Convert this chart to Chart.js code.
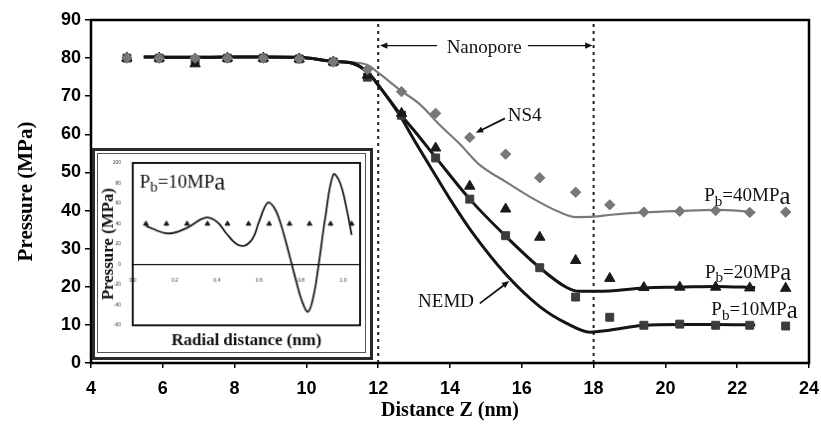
<!DOCTYPE html>
<html>
<head>
<meta charset="utf-8">
<script src="https://cdn.jsdelivr.net/npm/chart.js@4.4.1/dist/chart.umd.min.js"></script>
<style>
body { margin: 0; background: #fff; }
#wrap { position: relative; width: 821px; height: 431px; }
#mainChart { display: block; }
#inset { position: absolute; left: 92px; top: 148px; width: 281px; height: 212px; box-sizing: border-box;
         border: 3px solid #2a2a2a; padding: 2px; background: #fff; }
#insetChart { display: block; border: 1px solid #555; }
</style>
</head>
<body>
<div id="wrap">
  <canvas id="mainChart" width="821" height="431"></canvas>
  <div id="inset"><canvas id="insetChart" width="269" height="200"></canvas></div>
</div>
<script>
// --- main plot: NS4 points (one z grid for all three bulk pressures) ---
const zPoints = [5.0, 5.9, 6.9, 7.8, 8.8, 9.8, 10.75, 11.7, 12.65, 13.6, 14.55, 15.55, 16.5, 17.5, 18.45, 19.4, 20.4, 21.4, 22.35, 23.35];
const ns4P40 = [80, 80, 80, 80, 80, 79.8, 79, 77, 71.2, 65.5, 59.2, 54.8, 48.6, 44.8, 41.5, 39.6, 39.8, 40, 39.5, 39.6];
const ns4P20 = [80, 80, 78.5, 80, 80, 79.8, 79, 75.5, 65.5, 56.4, 46.4, 40.4, 33, 26.9, 22.2, 19.8, 19.9, 19.9, 19.7, 19.6];
const ns4P10 = [80, 80, 79.5, 80, 80, 79.8, 79, 75, 65, 53.8, 43, 33.4, 25, 17.3, 12, 9.9, 10.2, 9.9, 9.9, 9.7];

// --- main plot: NEMD curves ---
const nemdZ40 = [5.47, 6.4, 6.9, 7.8, 8.8, 9.8, 10.75, 11.3, 11.7, 12.06, 12.6, 13.17, 13.7, 14.28, 14.8, 15.58, 16.3, 17.05, 17.5, 18.0, 18.5, 19.4, 20.4, 21.4, 22.0, 22.5];
const nemdP40 = [80.3, 80.2, 80.2, 80.3, 80.3, 80.2, 79.1, 78.9, 78.2, 75.7, 71.7, 67.8, 62.6, 57.4, 52.2, 47.4, 43.2, 39.6, 38.3, 38.4, 38.9, 39.5, 39.9, 40.2, 40.0, 39.5];
const nemdZ20 = [5.47, 6.4, 6.9, 7.8, 8.8, 9.8, 10.75, 11.3, 11.7, 12.06, 12.6, 13.0, 13.64, 14.55, 15.55, 16.5, 17.25, 17.6, 18.0, 18.44, 19.4, 20.4, 21.4, 22.5];
const nemdP20 = [80.3, 80.2, 80.2, 80.3, 80.3, 80.2, 79.1, 78.6, 76.3, 72.2, 65.5, 61.0, 53.5, 43.0, 33.3, 25.0, 19.8, 18.8, 18.8, 18.9, 19.7, 19.9, 20.1, 19.8];
const nemdZ10 = [5.47, 6.4, 6.9, 7.8, 8.8, 9.8, 10.75, 11.3, 11.7, 12.06, 12.6, 13.0, 13.45, 14.0, 14.64, 15.58, 16.5, 17.25, 17.9, 18.44, 19.4, 20.4, 21.4, 22.5];
const nemdP10 = [80.3, 80.2, 80.2, 80.3, 80.3, 80.2, 79.1, 78.6, 76.3, 72.2, 65.0, 58.5, 51.5, 43.0, 34.0, 23.0, 14.8, 10.4, 8.1, 8.6, 9.9, 10.1, 10.1, 10.0];

const poreWalls = [12, 18];

// --- inset: radial profile at Pb = 10 MPa ---
const radialPts = [0.0625, 0.16, 0.258, 0.355, 0.45, 0.55, 0.648, 0.745, 0.84, 0.94, 1.04];
const radialNs4 = [40, 40, 40, 40, 40, 40, 40, 40, 40, 40, 40];
const radialZ = [0.0625, 0.167, 0.258, 0.344, 0.4, 0.445, 0.49, 0.53, 0.57, 0.6, 0.64, 0.67, 0.70, 0.74, 0.773, 0.805, 0.833, 0.86, 0.883, 0.914, 0.953, 0.984, 1.016, 1.04];
const radialNemd = [38, 30.5, 36, 46, 42, 30.5, 20.6, 18.4, 25.6, 42, 60.6, 56.7, 42, 12.5, -13.8, -36.7, -46.6, -30, -0.7, 45, 88.5, 81, 55, 29];

const pts = (xs, ys) => xs.map((v, i) => ({ x: v, y: ys[i] }));

const tickFont = { family: '"Liberation Sans", Arial', size: 18, weight: 'bold' };
const serif = '"Liberation Serif", "Times New Roman", serif';

function drawPb(ctx, x, y, num, size) {
    ctx.save();
    ctx.fillStyle = '#111';
    ctx.textAlign = 'left';
    ctx.textBaseline = 'alphabetic';
    const f = s => `${s}px ${serif}`;
    ctx.font = f(size); ctx.fillText('P', x, y); x += ctx.measureText('P').width;
    ctx.font = f(size * 0.8); ctx.fillText('b', x, y + size * 0.25); x += ctx.measureText('b').width;
    ctx.font = f(size); const t = '=' + num + 'MP'; ctx.fillText(t, x, y); x += ctx.measureText(t).width;
    ctx.font = f(size * 1.3); ctx.fillText('a', x, y + size * 0.15);
    ctx.restore();
}

function drawArrow(ctx, x1, y1, x2, y2, head) {
    const a = Math.atan2(y2 - y1, x2 - x1);
    ctx.beginPath(); ctx.moveTo(x1, y1); ctx.lineTo(x2 - Math.cos(a) * head * 0.8, y2 - Math.sin(a) * head * 0.8); ctx.stroke();
    ctx.beginPath();
    ctx.moveTo(x2, y2);
    ctx.lineTo(x2 - head * Math.cos(a - 0.4), y2 - head * Math.sin(a - 0.4));
    ctx.lineTo(x2 - head * Math.cos(a + 0.4), y2 - head * Math.sin(a + 0.4));
    ctx.closePath(); ctx.fill();
}

const framePlugin = {
    id: 'frame',
    afterDatasetsDraw(chart, args, opts) {
        const { ctx, chartArea: c } = chart;
        ctx.save();
        ctx.strokeStyle = '#000';
        ctx.lineWidth = opts.width || 2.5;
        ctx.strokeRect(c.left, c.top, c.right - c.left, c.bottom - c.top);
        ctx.restore();
    }
};

const mainNotes = {
    id: 'mainNotes',
    afterDatasetsDraw(chart) {
        const { ctx, scales: { x, y } } = chart;
        const X = v => x.getPixelForValue(v), Y = v => y.getPixelForValue(v);
        ctx.save();
        ctx.fillStyle = '#111';
        ctx.strokeStyle = '#111';
        ctx.lineWidth = 1.3;
        ctx.font = `19px ${serif}`;
        ctx.textBaseline = 'middle';
        ctx.textAlign = 'center';
        ctx.fillText('Nanopore', X(14.95), Y(82.7));
        drawArrow(ctx, X(13.64), Y(83.3), X(12.05), Y(83.3), 8);
        drawArrow(ctx, X(16.17), Y(83.3), X(17.97), Y(83.3), 8);
        ctx.textAlign = 'left';
        ctx.fillText('NS4', X(15.61), Y(64.7));
        ctx.lineWidth = 1.8;
        drawArrow(ctx, X(15.53), Y(64.2), X(14.72), Y(60.4), 8);
        ctx.textAlign = 'center';
        ctx.fillText('NEMD', X(13.89), Y(15.9));
        drawArrow(ctx, X(14.83), Y(15.65), X(15.65), Y(21.5), 8);
        ctx.restore();
        drawPb(ctx, X(21.08), Y(42.5), 40, 19);
        drawPb(ctx, X(21.1), Y(22.4), 20, 19);
        drawPb(ctx, X(21.28), Y(12.5), 10, 19);
    }
};

const wallSets = poreWalls.map(z => ({
    data: [{ x: z, y: 0 }, { x: z, y: 90 }],
    showLine: true, pointRadius: 0, borderColor: '#222', borderWidth: 2, borderDash: [3, 4], order: 4
}));

new Chart(document.getElementById('mainChart'), {
    type: 'scatter',
    data: {
        datasets: [
            { data: pts(zPoints, ns4P40), pointStyle: 'rectRot', pointRadius: 5.2, backgroundColor: '#787878', borderColor: '#787878', borderWidth: 1, order: 0 },
            { data: pts(zPoints, ns4P20), pointStyle: 'triangle', pointRadius: 6, backgroundColor: '#1a1a1a', borderColor: '#1a1a1a', borderWidth: 1, order: 0 },
            { data: pts(zPoints, ns4P10), pointStyle: 'rect', pointRadius: 5.6, backgroundColor: '#3c3c3c', borderColor: '#3c3c3c', borderWidth: 1, order: 0 },
            { data: pts(nemdZ20, nemdP20), showLine: true, pointRadius: 0, borderColor: '#141414', borderWidth: 3, cubicInterpolationMode: 'monotone', order: 1 },
            { data: pts(nemdZ10, nemdP10), showLine: true, pointRadius: 0, borderColor: '#141414', borderWidth: 3, cubicInterpolationMode: 'monotone', order: 1 },
            { data: pts(nemdZ40, nemdP40), showLine: true, pointRadius: 0, borderColor: '#7a7a7a', borderWidth: 2.2, cubicInterpolationMode: 'monotone', order: 2 },
            ...wallSets
        ]
    },
    options: {
        responsive: false,
        animation: false,
        events: [],
        layout: { padding: { top: 20, right: 12, left: 0, bottom: 0 } },
        plugins: { legend: { display: false }, tooltip: { enabled: false }, frame: { width: 2.5 } },
        scales: {
            x: {
                type: 'linear', min: 4, max: 24,
                ticks: { stepSize: 2, font: tickFont, color: '#000', padding: 10 },
                grid: { drawOnChartArea: false, tickLength: 5, color: '#000', lineWidth: 1.5 },
                border: { display: false },
                title: { display: true, text: 'Distance Z (nm)', color: '#000', font: { family: serif, size: 20, weight: 'bold' }, padding: { top: 0, bottom: 8 } },
                afterFit: s => { s.height = 68; s.paddingLeft = 0; s.paddingRight = 0; }
            },
            y: {
                min: 0, max: 90,
                ticks: { stepSize: 10, font: tickFont, color: '#000', padding: 4 },
                grid: { drawOnChartArea: false, tickLength: 6, color: '#000', lineWidth: 1.5 },
                border: { display: false },
                title: { display: true, text: 'Pressure (MPa)', color: '#000', font: { family: serif, size: 21, weight: 'bold' }, padding: { top: 14, bottom: 0 } },
                afterFit: s => { s.width = 91; }
            }
        }
    },
    plugins: [framePlugin, mainNotes]
});

const insetNotes = {
    id: 'insetNotes',
    afterDatasetsDraw(chart) {
        const { ctx, scales: { x, y } } = chart;
        drawPb(ctx, x.getPixelForValue(0.033), y.getPixelForValue(76), 10, 19);
    }
};

const smallFont = { family: '"Liberation Sans", Arial', size: 5 };

new Chart(document.getElementById('insetChart'), {
    type: 'scatter',
    data: {
        datasets: [
            { data: pts(radialPts, radialNs4), pointStyle: 'triangle', pointRadius: 2.8, backgroundColor: '#1a1a1a', borderColor: '#1a1a1a', borderWidth: 1 },
            { data: pts(radialZ, radialNemd), showLine: true, pointRadius: 0, borderColor: '#1a1a1a', borderWidth: 1.8, tension: 0.4 }
        ]
    },
    options: {
        responsive: false,
        animation: false,
        events: [],
        layout: { padding: { top: 9, right: 4, left: 0, bottom: 0 } },
        plugins: { legend: { display: false }, tooltip: { enabled: false }, frame: { width: 1.8 } },
        scales: {
            x: {
                type: 'linear', min: 0, max: 1.08,
                ticks: { display: false },
                grid: { display: false },
                border: { display: false },
                title: { display: true, text: 'Radial distance (nm)', color: '#111', font: { family: serif, size: 17, weight: 'bold' }, padding: { top: 0, bottom: 1 } },
                afterFit: s => { s.height = 27; }
            },
            x0: {
                type: 'linear', position: { y: 0 }, min: 0, max: 1.08,
                ticks: { stepSize: 0.2, includeBounds: false, font: smallFont, color: '#333', padding: 5, callback: v => v.toFixed(1) },
                grid: { display: false },
                border: { display: true, color: '#111', width: 1.2 }
            },
            y: {
                min: -60, max: 100,
                ticks: { stepSize: 20, font: smallFont, color: '#333', padding: 4 },
                grid: { display: false },
                border: { display: false },
                title: { display: true, text: 'Pressure (MPa)', color: '#111', font: { family: serif, size: 17, weight: 'bold' }, padding: { top: 0, bottom: 0 } },
                afterFit: s => { s.width = 35; }
            }
        }
    },
    plugins: [framePlugin, insetNotes]
});
</script>
</body>
</html>
